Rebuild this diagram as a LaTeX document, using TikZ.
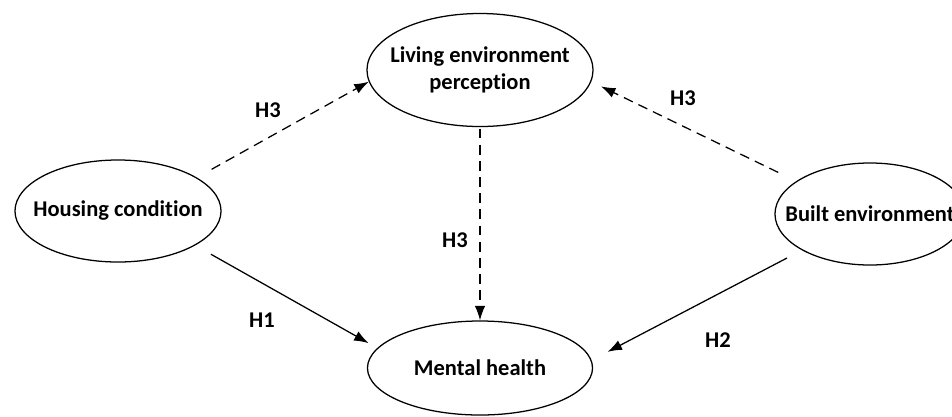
\documentclass[tikz,border=0pt]{standalone}
\usepackage{fontspec}
\setmainfont{Carlito}[Ligatures=NoCommon]
\usetikzlibrary{shapes.geometric,arrows.meta}
\newcommand\nowidth[1]{\makebox[0pt]{#1}} % text that does not widen its ellipse
\tikzset{%
  >={Latex[length=3.6mm,width=2.6mm]}, % big filled tips
  construct/.style={ellipse,draw,line width=0.9pt,inner sep=0pt,
    font=\fontsize{16}{19}\selectfont\bfseries,align=center},%
  path label/.style={font=\fontsize{16}{19}\selectfont\bfseries},%
  direct/.style={->,line width=0.9pt},%
  mediated/.style={->,line width=0.9pt,dash pattern=on 7pt off 4.5pt}%
}
\begin{document}
\begin{tikzpicture}[x=0.025cm,y=-0.025cm] % one unit = one pixel of the reference
\useasboundingbox (0,0) rectangle (952,416);
\begin{scope}
\clip (0,0) rectangle (952,416);
% the four constructs
\node[construct,minimum width=5.15cm,minimum height=2.55cm] (housing) at (118,211) {\nowidth{Housing condition}};
\node[construct,minimum width=5.65cm,minimum height=2.825cm] (living) at (480,70) {\nowidth{Living environment}\\\nowidth{perception}};
\node[construct,minimum width=4.75cm,minimum height=2.55cm] (built) at (870,214) {\nowidth{Built environment}};
\node[construct,minimum width=5.625cm,minimum height=2.35cm] (mental) at (480,368) {\nowidth{Mental health}};
\end{scope}

% hypothesised paths
\draw[mediated,shorten <=0.42cm] (housing.23) -- (living.186);
\draw[mediated,shorten <=0.5cm,shorten >=0.27cm] (built.156) -- (living.-6);
\draw[mediated,shorten <=1pt] (living.south) -- (mental.north);
\draw[direct,shorten <=0.45cm,shorten >=0.25cm] (housing.-24) -- (mental.169);
\draw[direct,shorten <=0.42cm,shorten >=0.45cm] (built.208) -- (mental.4);

% labels of the hypotheses
\node[path label] (hA) at (268,110) {H3};
\node[path label] (hB) at (683,98) {H3};
\node[path label] (hC) at (455,240) {H3};
\node[path label] (hD) at (262,320) {H1};
\node[path label] (hE) at (718,340) {H2};
\end{tikzpicture}
\end{document}
